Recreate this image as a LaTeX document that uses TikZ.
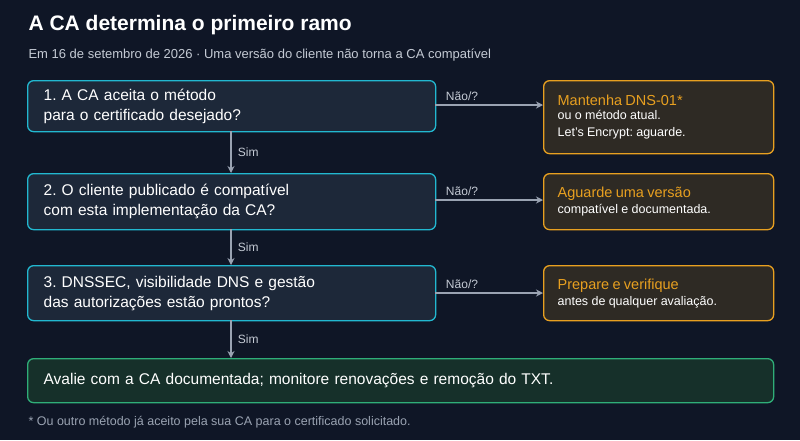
\documentclass[tikz,border=0pt]{standalone}
\usepackage{fontspec}
\setmainfont{Liberation Sans}
\usetikzlibrary{arrows.meta}
\definecolor{bg}{HTML}{0F1626}
\definecolor{cyanb}{HTML}{22B8D0}
\definecolor{boxf}{HTML}{1D2839}
\definecolor{orb}{HTML}{E8A020}
\definecolor{orf}{HTML}{2E2A24}
\definecolor{grb}{HTML}{2FAE78}
\definecolor{grf}{HTML}{16302A}
\definecolor{arr}{HTML}{9AA3B2}
\definecolor{sub}{HTML}{C4CAD4}
\frenchspacing
\begin{document}
\begin{tikzpicture}[x=1pt,y=-1pt,
 stepbox/.style={draw=cyanb,fill=boxf,line width=1.3pt,rounded corners=6pt,text=white,font=\fontsize{15.5}{20}\selectfont,align=left,anchor=north west,inner xsep=16pt},
 alt/.style={draw=orb,fill=orf,line width=1.3pt,rounded corners=6pt,align=left,anchor=north west,inner xsep=14pt,text width=202pt},
 con/.style={draw=arr,line width=1.2pt,-{Stealth[length=7pt,width=7pt]}},
 lab/.style={text=sub,font=\fontsize{12}{14}\selectfont}]
\fill[bg] (0,0) rectangle (800,440);
\useasboundingbox (0,0) rectangle (800,440);
\node[anchor=west,text=white,font=\bfseries\fontsize{21}{24}\selectfont] (t) at (25,25) {A CA determina o primeiro ramo};
\node[anchor=west,text=sub,font=\fontsize{13}{15}\selectfont] (s) at (25,55) {Em 16 de setembro de 2026 · Uma versão do cliente não torna a CA compatível};
\node[stepbox,minimum width=408pt,minimum height=51pt,text width=376pt] (b1) at (27,80) {1. A CA aceita o método\\para o certificado desejado?};
\node[stepbox,minimum width=408pt,minimum height=56pt,text width=376pt] (b2) at (27,173) {2. O cliente publicado é compatível\\com esta implementação da CA?};
\node[stepbox,minimum width=408pt,minimum height=55pt,text width=376pt] (b3) at (27,265) {3. DNSSEC, visibilidade DNS e gestão\\das autorizações estão prontos?};
\node[draw=grb,fill=grf,line width=1.3pt,rounded corners=6pt,anchor=north west,minimum width=746pt,minimum height=44pt,text width=714pt,inner xsep=16pt,align=left,text=white,font=\fontsize{15.5}{19}\selectfont] (f) at (27,358) {Avalie com a CA documentada; monitore renovações e remoção do TXT.};
\node[alt,minimum height=73pt] (a1) at (543,80) {{\color{orb}\fontsize{14.5}{18}\selectfont Mantenha DNS-01*}\\[2pt]{\color{white}\fontsize{12.5}{15}\selectfont ou o método atual.}\\[5pt]{\color{white}\fontsize{12.5}{15}\selectfont Let's Encrypt: aguarde.}};
\node[alt,minimum height=56pt] (a2) at (543,173) {{\color{orb}\fontsize{14.5}{18}\selectfont Aguarde uma versão}\\[3pt]{\color{white}\fontsize{12.5}{15}\selectfont compatível e documentada.}};
\node[alt,minimum height=55pt] (a3) at (543,265) {{\color{orb}\fontsize{14.5}{18}\selectfont Prepare e verifique}\\[3pt]{\color{white}\fontsize{12.5}{15}\selectfont antes de qualquer avaliação.}};
\coordinate (r1) at (435,105); \coordinate (r2) at (435,200); \coordinate (r3) at (435,293);
\draw[con] (r1) -- (a1.west|-r1) node[lab,pos=0.25,above] {Não/?};
\draw[con] (r2) -- (a2.west|-r2) node[lab,pos=0.25,above] {Não/?};
\draw[con] (r3) -- (a3.west|-r3) node[lab,pos=0.25,above] {Não/?};
\draw[con] (231,131) -- (231,173) node[lab,midway,right=3pt] {Sim};
\draw[con] (231,229) -- (231,265) node[lab,midway,right=3pt] {Sim};
\draw[con] (231,320) -- (231,358) node[lab,midway,right=3pt] {Sim};
\node[anchor=west,text=arr,font=\fontsize{12.5}{14}\selectfont] (fn) at (25,422) {* Ou outro método já aceito pela sua CA para o certificado solicitado.};
\end{tikzpicture}
\end{document}
